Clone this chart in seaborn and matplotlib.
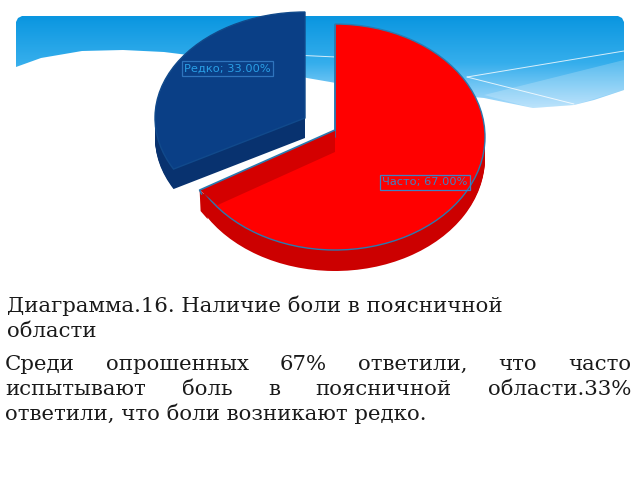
import numpy as np
import matplotlib
matplotlib.use('Agg')
import matplotlib.pyplot as plt
import seaborn as sns
from matplotlib.colors import LinearSegmentedColormap
from matplotlib.patches import Polygon
from matplotlib.transforms import Affine2D

categories = ['Часто', 'Редко']
values = [67, 33]
labels = ['Часто; 67.00%', 'Редко; 33.00%']

title_lines = ['Диаграмма.16. Наличие боли в поясничной', 'области']
body_lines = ['Среди опрошенных 67% ответили, что часто',
              'испытывают боль в поясничной области.33%',
              'ответили, что боли возникают редко.']

wave_x = [624, 618, 594, 574, 533, 484, 420, 336, 307, 250, 188, 164, 123, 82, 41, 16]
wave_y = [90, 92, 100, 105, 108, 98, 92, 83, 78, 64, 55, 52, 50, 51, 58, 67]

sns.set_theme(style="white")
plt.rcParams['font.family'] = ['DejaVu Sans']

fig = plt.figure(figsize=(6.4, 4.8), dpi=100)
ax = fig.add_axes([0, 0, 1, 1])

# banner at the top of the slide
banner = [(16, 22), (18, 18), (22, 16), (618, 16), (622, 18), (624, 22)] + list(zip(wave_x, wave_y))
grad = LinearSegmentedColormap.from_list('banner', ['#0a96e0', '#35aeec', '#b0defc'])
img = ax.imshow(np.linspace(0, 1, 100).reshape(-1, 1), cmap=grad, extent=(16, 624, 110, 16), aspect='auto')
clip = Polygon(banner, transform=ax.transData, facecolor='none', edgecolor='none')
ax.add_patch(clip)
img.set_clip_path(clip)

light = Polygon([(484, 95), (624, 60), (624, 90), (574, 105), (533, 108)], facecolor='white',
                edgecolor='none', alpha=0.2)
ax.add_patch(light)
ax.plot([467, 624], [77, 51], color='white', lw=0.7, alpha=0.8)
ax.plot([467, 574], [77, 104], color='white', lw=0.7, alpha=0.8)
ax.plot([250, 336], [53, 57], color='white', lw=0.7, alpha=0.8)

# ellipse of each slice: centre x, centre y, radius x, radius y
shapes = [(335, 137, 150, 113), (305, 118, 150, 106)]
depth = [21, 20]
side_colors = ['#cc0000', '#08326f']
top_colors = ['#ff0000', '#0a3f86']
edge_colors = ['#2a7ab0', '#114a8c']


def draw_slice(i, dy, color, edge='none', lw=0, z=2):
    wedges, _ = ax.pie(values, startangle=90, counterclock=False, radius=1,
                       colors=['none', 'none'], wedgeprops={'linewidth': 0})
    for j, w in enumerate(wedges):
        if j != i:
            w.remove()
            continue
        cx, cy, rx, ry = shapes[i]
        w.set_facecolor(color)
        w.set_edgecolor(edge)
        w.set_linewidth(lw)
        w.set_zorder(z)
        w.set_transform(Affine2D().scale(rx, -ry).translate(cx, cy + dy) + ax.transData)
    return wedges[i]


for i in [1, 0]:
    for dy in range(depth[i], 0, -1):
        draw_slice(i, dy, side_colors[i])
    top = draw_slice(i, 0, top_colors[i], edge_colors[i], 1.0, z=3)

# inner wall of the red slice, along its cut edge
cx, cy, rx, ry = shapes[0]
end = np.radians(90 - values[0] / sum(values) * 360)
rim_x = cx + 1.03 * rx * np.cos(end)
rim_y = cy - 1.03 * ry * np.sin(end)
ax.add_patch(Polygon([(rim_x, rim_y - 3), (rim_x + 1, rim_y + 18), (rim_x + 8, rim_y + 26), (rim_x + 10, rim_y + 6)],
                     facecolor=side_colors[0], edgecolor='none', zorder=2))
ax.add_patch(Polygon([(cx, cy - 7), (rim_x, rim_y - 3), (rim_x + 18, rim_y + 12), (cx, cy + 15)],
                     facecolor='#d40000', edgecolor='none', zorder=4))
ax.plot([cx, rim_x, rim_x + 2], [cy - 7, rim_y - 3, rim_y + 1], color=edge_colors[0], lw=1.2, zorder=5)
ax.plot([cx, cx], [cy - 112, cy - 7], color=edge_colors[0], lw=1.2, zorder=5)

ax.text(227.5, 68.5, labels[1], color='#2a9fe6', fontsize=8.2, ha='center', va='center', zorder=6,
        bbox={'boxstyle': 'square,pad=0.22', 'fc': 'none', 'ec': '#2f74bd', 'lw': 0.9})
ax.text(425, 182.5, labels[0], color='#3f82c4', fontsize=8.2, ha='center', va='center', zorder=6,
        bbox={'boxstyle': 'square,pad=0.22', 'fc': 'none', 'ec': '#3f82c4', 'lw': 0.9})

for line, y in zip(title_lines, [312, 337]):
    ax.text(7, y, line, family='DejaVu Serif', fontsize=15.3, color='#1a1a1a', va='baseline', zorder=6)

# body text, first two lines justified to the column
renderer = fig.canvas.get_renderer()
ax.set_xlim(0, 640)
ax.set_ylim(480, 0)
ax.set_aspect('auto')
ax.axis('off')
for line, y, justify in zip(body_lines, [370, 395, 420], [True, True, False]):
    if not justify:
        ax.text(5, y, line, family='DejaVu Serif', fontsize=15.3, color='#1a1a1a', va='baseline', zorder=6)
        continue
    words = [ax.text(5, y, w, family='DejaVu Serif', fontsize=15.3, color='#1a1a1a', va='baseline', zorder=6)
             for w in line.split()]
    widths = [w.get_window_extent(renderer).width for w in words]
    gap = (631 - 5 - sum(widths)) / (len(words) - 1)
    x = 5
    for w, width in zip(words, widths):
        w.set_x(x)
        x += width + gap

fig.savefig('out.png', dpi=100)
